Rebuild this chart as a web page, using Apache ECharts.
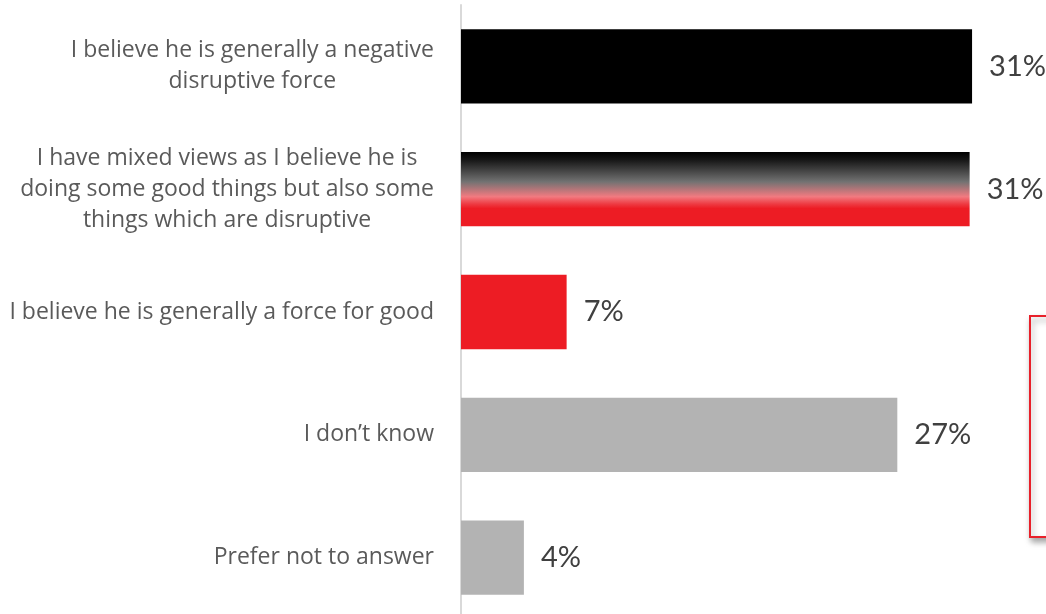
<!DOCTYPE html>
<html>
<head>
<meta charset="utf-8">
<script src="https://cdn.jsdelivr.net/npm/echarts@6/dist/echarts.min.js"></script>
<style>html,body{margin:0;padding:0;background:#fff;}#c{width:1046px;height:614px;}</style>
</head>
<body>
<div id="c"></div>
<script>
const categories = [
  "I believe he is generally a negative\ndisruptive force",
  "I have mixed views as I believe he is\ndoing some good things but also some\nthings which are disruptive",
  "I believe he is generally a force for good",
  "I don\u2019t know",
  "Prefer not to answer"
];
const values = [31.45, 31.3, 6.5, 26.85, 3.87];
const valueLabels = ["31%", "31%", "7%", "27%", "4%"];

const gradient = new echarts.graphic.LinearGradient(0, 0, 0, 1, [
  {offset: 0, color: '#000000'},
  {offset: 0.1, color: '#151515'},
  {offset: 0.4, color: '#727272'},
  {offset: 0.6, color: '#f27a80'},
  {offset: 0.7, color: '#ee3a42'},
  {offset: 0.76, color: '#ed1c24'},
  {offset: 1, color: '#ed1c24'}
]);
const colors = ['#000000', gradient, '#ed1c24', '#b3b3b3', '#b3b3b3'];

const chart = echarts.init(document.getElementById('c'), null, {renderer: 'canvas'});
chart.setOption({
  animation: false,
  grid: {left: 461, right: 0, top: 5, height: 614, containLabel: false, outerBoundsMode: 'none'},
  xAxis: {
    type: 'value', min: 0, max: 36, show: false
  },
  yAxis: {
    type: 'category',
    inverse: true,
    data: categories,
    axisLine: {show: true, lineStyle: {color: '#d9d9d9', width: 2}},
    axisTick: {show: false},
    splitLine: {show: false},
    axisLabel: {
      margin: 27,
      align: 'right',
      color: '#5a5a5a',
      fontFamily: 'Open Sans',
      fontWeight: 400,
      fontSize: 23,
      lineHeight: 31,
      formatter: function (v) {
        return v.split('\n').map(function (l) { return '{c|' + l + '}'; }).join('\n');
      },
      rich: {
        c: {align: 'center', color: '#5a5a5a', fontFamily: 'Open Sans', fontWeight: 400, fontSize: 23, lineHeight: 31}
      }
    }
  },
  series: [{
    type: 'bar',
    barCategoryGap: '39.5%',
    data: values.map(function (v, i) { return {value: v, itemStyle: {color: colors[i]}}; }),
    label: {
      show: true,
      position: 'right',
      distance: 17,
      color: '#404040',
      fontFamily: 'Lato',
      fontSize: 29,
      formatter: function (p) { return valueLabels[p.dataIndex]; }
    }
  }],
  graphic: [{
    type: 'rect',
    shape: {x: 1030, y: 316, width: 60, height: 221},
    style: {fill: '#ffffff', stroke: '#e8202a', lineWidth: 2, shadowColor: 'rgba(0,0,0,0.35)', shadowBlur: 6, shadowOffsetX: 2, shadowOffsetY: 4},
    z: 10
  }]
});
</script>
</body>
</html>
